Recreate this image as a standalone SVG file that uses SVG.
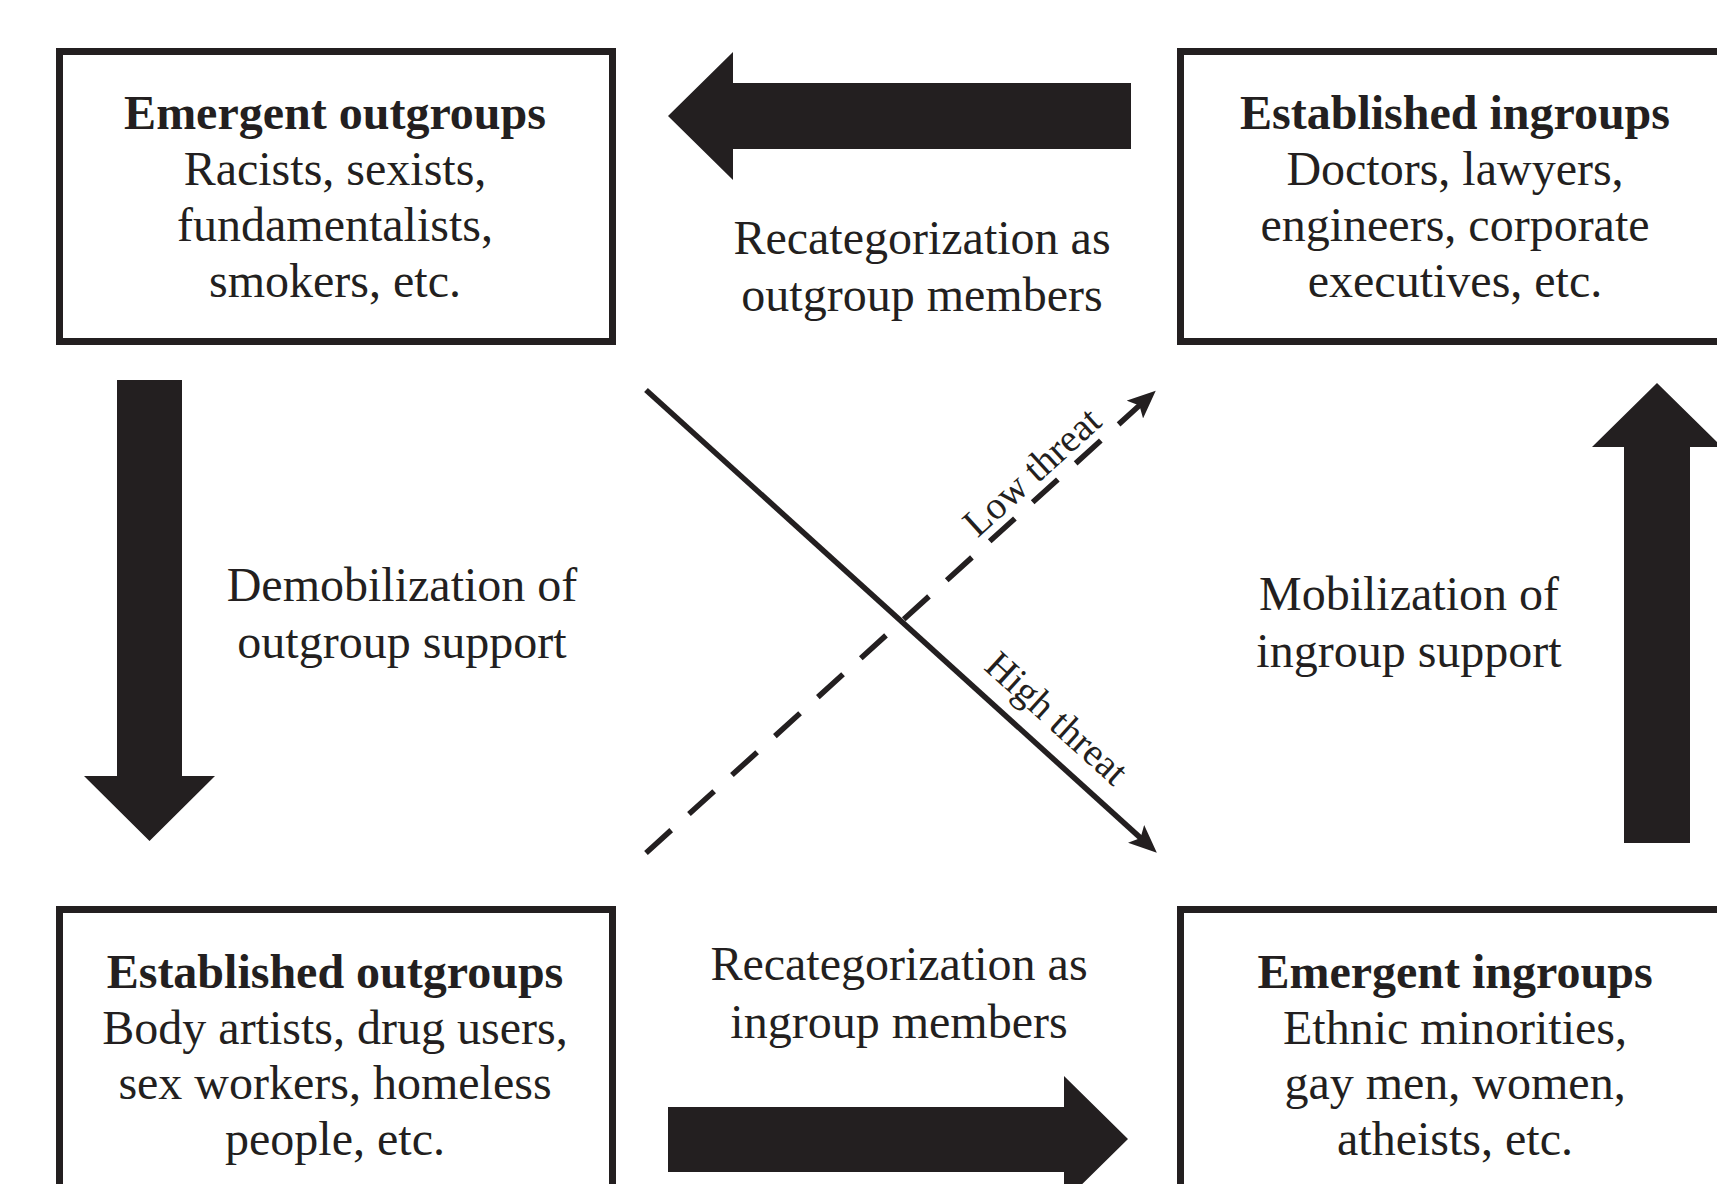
<svg xmlns="http://www.w3.org/2000/svg" width="1717" height="1184" viewBox="0 0 1717 1184">
<style>
  .box { fill: #ffffff; stroke: #231f20; stroke-width: 7; }
  .t { font-family: "Liberation Serif", "Times New Roman", serif; font-size: 48px; fill: #231f20; text-anchor: middle; }
  .b { font-weight: bold; }
  .lbl { font-family: "Liberation Serif", "Times New Roman", serif; font-size: 39px; fill: #231f20; text-anchor: middle; }
  .big { fill: #231f20; stroke: none; }
  .thin { fill: none; stroke: #231f20; stroke-width: 5.5; }
  .dash { stroke-dasharray: 34 24; }
</style>
<defs>
  <marker id="head" viewBox="0 0 28 24" markerWidth="28" markerHeight="24" refX="10" refY="12" orient="auto" markerUnits="userSpaceOnUse">
    <path d="M0,0 L28,12 L0,24 L6,12 z" fill="#231f20"/>
  </marker>
</defs>
<rect width="1717" height="1184" fill="#ffffff"/>

<g id="emergent-outgroups">
  <rect class="box" x="59.5" y="51.5" width="553" height="290"/>
  <text class="t b" x="335" y="129">Emergent outgroups</text>
  <text class="t" x="335" y="185">Racists, sexists,</text>
  <text class="t" x="335" y="241">fundamentalists,</text>
  <text class="t" x="335" y="297">smokers, etc.</text>
</g>

<g id="established-ingroups">
  <rect class="box" x="1180.5" y="51.5" width="600" height="290"/>
  <text class="t b" x="1455" y="129">Established ingroups</text>
  <text class="t" x="1455" y="185">Doctors, lawyers,</text>
  <text class="t" x="1455" y="241">engineers, corporate</text>
  <text class="t" x="1455" y="297">executives, etc.</text>
</g>

<g id="established-outgroups">
  <rect class="box" x="59.5" y="909.5" width="553" height="400"/>
  <text class="t b" x="335" y="988">Established outgroups</text>
  <text class="t" x="335" y="1044">Body artists, drug users,</text>
  <text class="t" x="335" y="1099">sex workers, homeless</text>
  <text class="t" x="335" y="1155">people, etc.</text>
</g>

<g id="emergent-ingroups">
  <rect class="box" x="1180.5" y="909.5" width="600" height="400"/>
  <text class="t b" x="1455" y="988">Emergent ingroups</text>
  <text class="t" x="1455" y="1044">Ethnic minorities,</text>
  <text class="t" x="1455" y="1099">gay men, women,</text>
  <text class="t" x="1455" y="1155">atheists, etc.</text>
</g>

<g id="connectors">
  <!-- top: established ingroups -> emergent outgroups -->
  <polygon class="big" points="1131,83 733,83 733,52 668,116 733,180 733,149 1131,149"/>
  <text class="t" x="922" y="254">Recategorization as</text>
  <text class="t" x="922" y="311">outgroup members</text>

  <!-- left: emergent outgroups -> established outgroups -->
  <polygon class="big" points="117,380 182,380 182,776 215,776 149.5,841 84,776 117,776"/>
  <text class="t" x="402" y="601">Demobilization of</text>
  <text class="t" x="402" y="658">outgroup support</text>

  <!-- bottom: established outgroups -> emergent ingroups -->
  <polygon class="big" points="668,1107 1064,1107 1064,1076 1128,1139 1064,1202 1064,1172 668,1172"/>
  <text class="t" x="899" y="980">Recategorization as</text>
  <text class="t" x="899" y="1038">ingroup members</text>

  <!-- right: emergent ingroups -> established ingroups -->
  <polygon class="big" points="1624,843 1624,447 1592,447 1657,383 1722,447 1690,447 1690,843"/>
  <text class="t" x="1409" y="610">Mobilization of</text>
  <text class="t" x="1409" y="667">ingroup support</text>

  <!-- cross: high threat (solid) and low threat (dashed) -->
  <line class="thin" x1="646" y1="390" x2="1143.5" y2="840.6" marker-end="url(#head)"/>
  <line class="thin dash" x1="646" y1="853" x2="1142.4" y2="402.8" marker-end="url(#head)"/>
  <text class="lbl" transform="translate(1040.5,481.3) rotate(-42.2)">Low threat</text>
  <text class="lbl" transform="translate(1048.2,727.7) rotate(42.2)">High threat</text>
</g>
</svg>
